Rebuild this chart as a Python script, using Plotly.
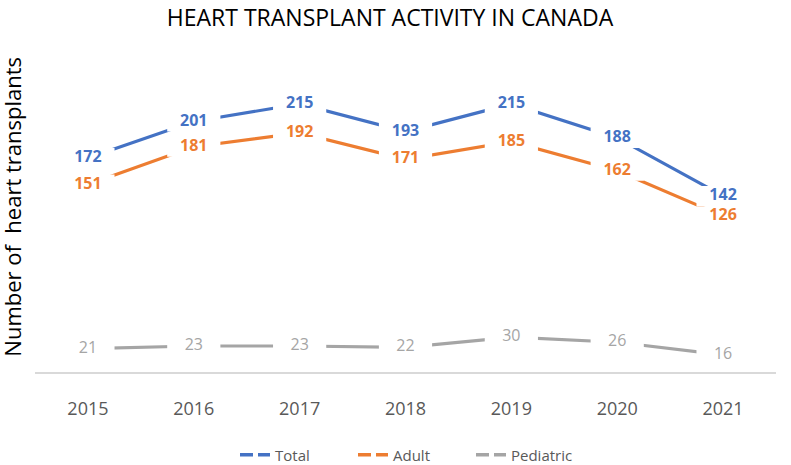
import plotly.graph_objects as go

years = ["2015", "2016", "2017", "2018", "2019", "2020", "2021"]
total = [172, 201, 215, 193, 215, 188, 142]
adult = [151, 181, 192, 171, 185, 162, 126]
pediatric = [21, 23, 23, 22, 30, 26, 16]

series = [
    ("Total", total, "#4472C4", True),
    ("Adult", adult, "#ED7D31", True),
    ("Pediatric", pediatric, "#A5A5A5", False),
]

FONT = "Open Sans"
W, H = 791, 465
L, R, T, B = 35, 15, 60, 93
PW = W - L - R
PH = H - T - B
AXIS_Y = H - B

fig = go.Figure()

# lines first
for name, vals, color, bold in series:
    fig.add_trace(go.Scatter(
        x=years, y=vals, mode="lines",
        line=dict(color=color, width=3.2),
        cliponaxis=False, showlegend=False, hoverinfo="skip",
    ))

# labels with white boxes on top
for name, vals, color, bold in series:
    fig.add_trace(go.Scatter(
        x=years, y=vals, mode="markers+text",
        marker=dict(symbol="line-ew", size=38, color="white",
                    line=dict(width=20, color="white")),
        text=[f"<b>{v}</b>" if bold else str(v) for v in vals],
        textposition="middle center",
        textfont=dict(family=FONT, size=16, color=color),
        cliponaxis=False, showlegend=False, hoverinfo="skip",
    ))

# legend entries
for name, vals, color, bold in series:
    fig.add_trace(go.Scatter(
        x=[None], y=[None], mode="lines", name=name,
        line=dict(color=color, width=3.5, dash="13px,5px"),
    ))

fig.add_annotation(
    text="Number of  heart transplants", textangle=-90,
    xref="paper", yref="paper", x=(12 - L) / PW, y=0.53,
    xanchor="center", yanchor="middle",
    showarrow=False, font=dict(family=FONT, size=22, color="#000000"),
)

fig.update_layout(
    width=W, height=H,
    margin=dict(l=L, r=R, t=T, b=B, autoexpand=False),
    paper_bgcolor="white", plot_bgcolor="white",
    title=dict(text="HEART TRANSPLANT ACTIVITY IN CANADA", x=390 / W, xanchor="center",
               y=1 - 10 / H, yanchor="top",
               font=dict(family=FONT, size=23, color="#000000")),
    xaxis=dict(type="category", range=[-0.5, 6.5], showgrid=False,
               showline=True, linecolor="#D9D9D9", linewidth=1.5,
               ticks="", tickfont=dict(family=FONT, size=18, color="#595959"),
               ticklabelstandoff=20, zeroline=False),
    yaxis=dict(range=[2.4, 249.8], visible=False, showgrid=False, zeroline=False),
    legend=dict(orientation="h", x=(412 - L) / PW, xanchor="center",
                y=(AXIS_Y - 455) / PH, yanchor="middle",
                font=dict(family=FONT, size=15, color="#595959"),
                entrywidth=73, entrywidthmode="pixels"),
)

fig.write_html("out.html", config={"displayModeBar": False},
               post_script="document.body.style.margin='0';document.body.style.overflow='hidden';")
